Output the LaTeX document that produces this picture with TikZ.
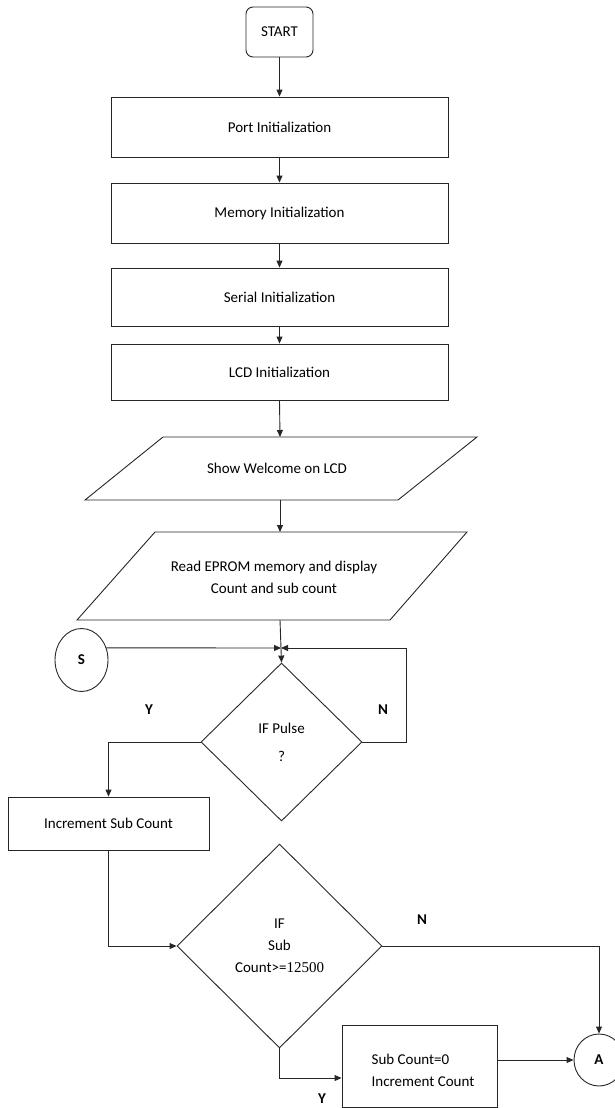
\documentclass[tikz,border=0pt]{standalone}
\usepackage{fontspec}
\setmainfont{Carlito}
\newfontfamily\numfont{Liberation Serif}
\usetikzlibrary{arrows.meta,shapes.geometric}
\begin{document}
\begin{tikzpicture}[x=1pt,y=-1pt,
  ln/.style={draw=black!85, line width=0.9pt},
  arr/.style={ln, -{Triangle[length=7pt,width=6pt]}},
  txt/.style={font=\fontsize{15}{22}\selectfont},
  box/.style={rectangle, ln, inner sep=0pt, txt},
  dia/.style={diamond, ln, inner sep=0pt, txt, align=center},
  circ/.style={ellipse, ln, inner sep=0pt, font=\bfseries\fontsize{15}{17}\selectfont},
  lbl/.style={font=\bfseries\fontsize{15}{17}\selectfont}]
\useasboundingbox (0,0) rectangle (615,1108);

\node[box, rounded corners=7pt, minimum width=67pt, minimum height=50pt] (start) at (279.5,32) {START};
\node[box, minimum width=337pt, minimum height=60pt] (port) at (279.5,127) {Port Initialization};
\node[box, minimum width=337pt, minimum height=60pt] (mem) at (279.5,213) {Memory Initialization};
\node[box, minimum width=337pt, minimum height=58pt] (ser) at (279.5,297) {Serial Initialization};
\node[box, minimum width=337pt, minimum height=56pt] (lcd) at (279.5,372) {LCD Initialization};

% Show welcome parallelogram
\draw[ln] (85,500) -- (163,437) -- (477,437) -- (398,500) -- cycle;
\node[txt] (wel) at (277,468) {Show Welcome on LCD};
\coordinate (weln) at (280,437);
\coordinate (wels) at (280,500);

% Read EPROM parallelogram
\draw[ln] (77,620) -- (155,532) -- (467,532) -- (390,620) -- cycle;
\node[txt, align=center] (epr) at (274,577) {Read EPROM memory and display\\Count and sub count};
\coordinate (eprn) at (280,532);
\coordinate (eprs) at (280,620);

\node[dia, minimum width=161pt, minimum height=158pt] (d1) at (281.5,742) {IF Pulse\\[6pt]?};
\coordinate (j) at (281,648);

\node[circ, minimum width=53pt, minimum height=63pt] (S) at (81.5,660) {S};

\node[box, minimum width=201pt, minimum height=53pt] (inc) at (108.5,823.5) {Increment Sub Count};

\node[dia, minimum width=205pt, minimum height=204pt] (d2) at (279.5,946) {IF\\Sub\\Count>={\numfont 12500}};

\node[box, minimum width=155pt, minimum height=82pt] (sc) at (419.5,1066) {};
\node[txt, align=left] (sctxt) at (423,1070) {Sub Count=0\\Increment Count};

\node[circ, minimum width=50pt, minimum height=52pt] (A) at (599,1060) {A};

% connectors
\draw[arr] (start) -- (port);
\draw[arr] (port) -- (mem);
\draw[arr] (mem) -- (ser);
\draw[arr] (ser) -- (lcd);
\draw[arr] (lcd.south) -- (weln);
\draw[arr] (wels) -- (eprn);
\draw[arr] (eprs) -- (d1.north);
\draw[arr] (S.26) -- (j);
\draw[arr] (d1.east) -- ++(44,0) |- (j);
\draw[arr] (d1.west) -| (inc.north);
\draw[arr] (inc.south) |- (d2.west);
\draw[arr] (d2.east) -| (A.north);
\draw[arr] (d2.south) |- ([yshift=-12pt]sc.west);
\draw[arr] ([yshift=6pt]sc.east) -- (A.west);

% labels
\node[lbl] (ly1) at (149,710) {Y};
\node[lbl] (ln1) at (383,710) {N};
\node[lbl] (ln2) at (422,920) {N};
\node[lbl] (ly2) at (322,1099) {Y};
\end{tikzpicture}
\end{document}
